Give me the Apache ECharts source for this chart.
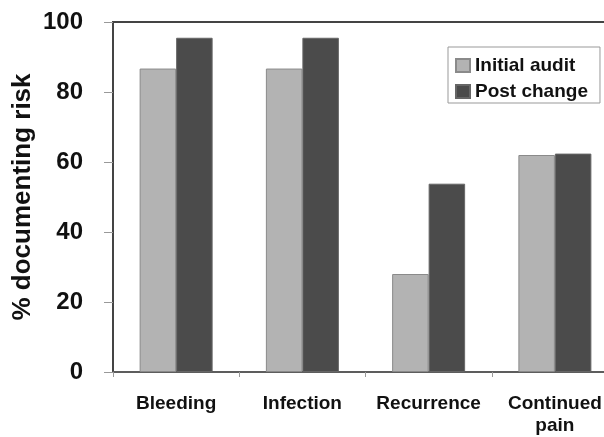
<!DOCTYPE html>
<html>
<head>
<meta charset="utf-8">
<script src="https://cdn.jsdelivr.net/npm/echarts@6/dist/echarts.min.js"></script>
<style>
  html, body { margin: 0; padding: 0; background: #fff; overflow: hidden; }
  #chart { width: 640px; height: 437px; }
</style>
</head>
<body>
<div id="chart"></div>
<script>
// Risk documentation by complication, before and after the change
const categories = ['Bleeding', 'Infection', 'Recurrence', 'Continued\npain'];
const initialAudit = [86.7, 86.7, 28, 62];
const postChange = [95.5, 95.5, 53.8, 62.4];
const yTicks = [0, 20, 40, 60, 80, 100];

const FONT = '"Liberation Sans", Arial, sans-serif';

const chart = echarts.init(document.getElementById('chart'), null, { renderer: 'canvas' });

chart.setOption({
  animation: false,
  backgroundColor: '#ffffff',
  grid: {
    left: 113, top: 22, width: 505, bottom: 63,
    show: true, borderColor: '#444', borderWidth: 2,
    backgroundColor: 'transparent'
  },
  legend: {
    orient: 'vertical',
    left: 448, top: 47,
    padding: [9, 12, 2, 7],
    itemGap: 7,
    itemWidth: 14, itemHeight: 13,
    itemTextGap: 4,
    borderColor: '#999', borderWidth: 1,
    backgroundColor: '#fff',
    icon: 'rect',
    textStyle: { fontFamily: FONT, fontWeight: 'bold', fontSize: 19, color: '#111', lineHeight: 18 },
    data: ['Initial audit', 'Post change']
  },
  xAxis: {
    type: 'category',
    data: categories,
    axisLine: { lineStyle: { color: '#666', width: 1.5 } },
    axisTick: { show: true, length: 5, lineStyle: { color: '#999' } },
    axisLabel: {
      margin: 21, fontFamily: FONT, fontWeight: 'bold', fontSize: 19,
      color: '#111', lineHeight: 22, interval: 0
    }
  },
  yAxis: {
    type: 'value',
    min: yTicks[0], max: yTicks[yTicks.length - 1], interval: 20,
    name: '% documenting risk',
    nameLocation: 'middle',
    nameRotate: 90,
    nameGap: 77,
    nameMoveOverlap: false,
    nameTextStyle: { fontFamily: FONT, fontWeight: 'bold', fontSize: 26, color: '#111' },
    splitLine: { show: false },
    axisLine: { show: true, lineStyle: { color: '#444', width: 2 } },
    axisTick: { show: true, length: 9, lineStyle: { color: '#999' } },
    axisLabel: { margin: 30, fontFamily: FONT, fontWeight: 'bold', fontSize: 24, color: '#111' }
  },
  series: [
    {
      name: 'Initial audit', type: 'bar', data: initialAudit,
      barWidth: 36.5, barGap: '0%',
      itemStyle: { color: '#b3b3b3', borderColor: '#8a8a8a', borderWidth: 1 }
    },
    {
      name: 'Post change', type: 'bar', data: postChange,
      barWidth: 36.5, barGap: '0%',
      itemStyle: { color: '#4b4b4b', borderColor: '#666', borderWidth: 1 }
    }
  ]
});
</script>
</body>
</html>
